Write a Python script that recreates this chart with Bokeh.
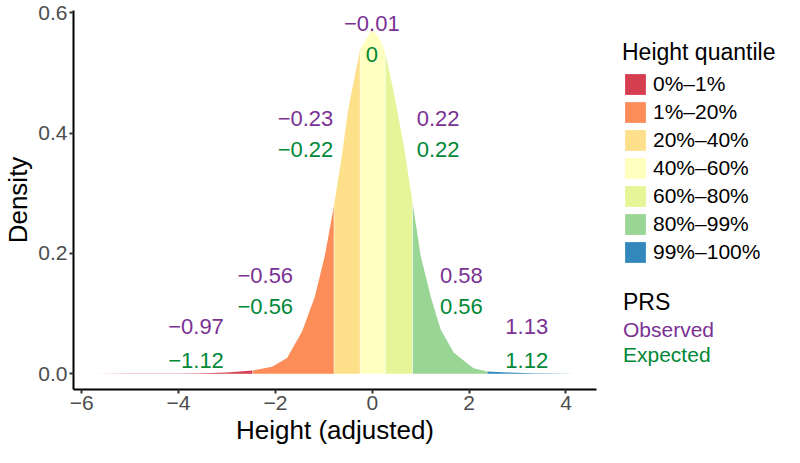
from bokeh.plotting import figure
from bokeh.layouts import row
from bokeh.models import Range1d, FixedTicker, Legend, LegendItem, ColumnDataSource
from bokeh.embed import file_html
from bokeh.resources import INLINE
from bokeh.core.properties import value

FONT = "Liberation Sans"

# ---- data ----
quantile_labels = ["0%–1%", "1%–20%", "20%–40%", "40%–60%", "60%–80%", "80%–99%", "99%–100%"]
band_colors = ["#D53E4F", "#FC8D59", "#FEE08B", "#FFFFBF", "#E6F598", "#99D594", "#3288BD"]
band_edges = [-5.73, -2.47, -0.79, -0.25, 0.27, 0.83, 2.37, 4.18]

curve_x = [-5.73, -5.0, -4.5, -4.0, -3.5, -3.0, -2.47, -2.07, -1.76, -1.45, -1.19, -0.98,
           -0.79, -0.62, -0.50, -0.25, 0.0, 0.10, 0.18, 0.27, 0.45, 0.66, 0.83, 1.00,
           1.21, 1.41, 1.68, 2.09, 2.37, 2.80, 3.30, 3.80, 4.18]
curve_density = [0.0, 0.00005, 0.0001, 0.0003, 0.0008, 0.002, 0.005, 0.0115, 0.026, 0.070,
                 0.127, 0.196, 0.280, 0.367, 0.438, 0.540, 0.573, 0.563, 0.552, 0.533,
                 0.465, 0.375, 0.285, 0.196, 0.127, 0.074, 0.035, 0.009, 0.0036, 0.0018,
                 0.0007, 0.0002, 0.0]

label_x = [-3.64, -2.21, -1.38, -0.01, 1.36, 1.84, 3.19]
observed_labels = ["−0.97", "−0.56", "−0.23", "−0.01", "0.22", "0.58", "1.13"]
observed_y = [0.078, 0.164, 0.425, 0.583, 0.425, 0.164, 0.078]
expected_labels = ["−1.12", "−0.56", "−0.22", "0", "0.22", "0.56", "1.12"]
expected_y = [0.022, 0.1115, 0.372, 0.530, 0.372, 0.1115, 0.022]

x_ticks = [-6, -4, -2, 0, 2, 4]
x_tick_labels = ["−6", "−4", "−2", "0", "2", "4"]
y_ticks = [0.0, 0.2, 0.4, 0.6]
y_tick_labels = ["0.0", "0.2", "0.4", "0.6"]

observed_color = "#7B3294"
expected_color = "#008837"

# ---- main figure ----
p = figure(width=600, height=447, output_backend="svg", toolbar_location=None,
           x_range=Range1d(-6.17, 4.63), y_range=Range1d(-0.0264, 0.604),
           min_border_left=62, min_border_right=4, min_border_top=10, min_border_bottom=40)
p.outline_line_color = None
p.grid.visible = False

for i in range(7):
    lo, hi = band_edges[i], band_edges[i + 1]
    xs = [x for x in curve_x if lo <= x <= hi]
    ys = [d for x, d in zip(curve_x, curve_density) if lo <= x <= hi]
    p.varea(x=xs, y1=[0.0] * len(xs), y2=ys, fill_color=band_colors[i], fill_alpha=1.0)

# faint light seams between adjacent bands
inner_edges = band_edges[1:-1]
edge_tops = [curve_density[curve_x.index(e)] for e in inner_edges]
p.segment(x0=inner_edges, y0=[0.0] * len(inner_edges), x1=inner_edges, y1=edge_tops,
          line_color="white", line_alpha=0.55, line_width=1)

obs_src = ColumnDataSource(dict(x=label_x, y=observed_y, t=observed_labels))
exp_src = ColumnDataSource(dict(x=label_x, y=expected_y, t=expected_labels))
p.text(x="x", y="y", text="t", source=obs_src, text_color=observed_color,
       text_font=value(FONT), text_font_size="22px", text_align="center", text_baseline="middle")
p.text(x="x", y="y", text="t", source=exp_src, text_color=expected_color,
       text_font=value(FONT), text_font_size="22px", text_align="center", text_baseline="middle")

for ax in (p.xaxis, p.yaxis):
    ax.axis_line_color = "black"
    ax.axis_line_width = 2
    ax.major_tick_line_color = "#333333"
    ax.major_tick_line_width = 2
    ax.major_tick_out = 4
    ax.major_tick_in = 0
    ax.minor_tick_line_color = None
    ax.major_label_text_font = FONT
    ax.major_label_text_font_size = "21px"
    ax.major_label_text_color = "#4D4D4D"
    ax.axis_label_text_font = FONT
    ax.axis_label_text_font_size = "26px"
    ax.axis_label_text_font_style = "normal"
    ax.axis_label_text_color = "black"
    ax.major_label_standoff = 2
    ax.axis_label_standoff = 2

p.xaxis.ticker = FixedTicker(ticks=x_ticks)
p.xaxis.major_label_overrides = {t: l for t, l in zip(x_ticks, x_tick_labels)}
p.yaxis.ticker = FixedTicker(ticks=y_ticks)
p.yaxis.major_label_overrides = {t: l for t, l in zip(y_ticks, y_tick_labels)}
p.xaxis.axis_label = "Height (adjusted)"
p.yaxis.axis_label = "Density"

# ---- legend panel ----
lf = figure(width=184, height=447, output_backend="svg", toolbar_location=None,
            x_range=Range1d(0, 1), y_range=Range1d(0, 1),
            x_axis_location=None, y_axis_location=None,
            min_border_left=0, min_border_right=0, min_border_top=0, min_border_bottom=0)
lf.grid.visible = False
lf.outline_line_color = None


def style_legend(lg):
    lg.border_line_alpha = 0
    lg.background_fill_alpha = 0
    lg.padding = 0
    lg.margin = 0
    lg.title_text_font = FONT
    lg.title_text_font_size = "23px"
    lg.title_text_font_style = "normal"
    lg.title_text_color = "black"
    lg.label_text_font = FONT
    lg.label_text_font_size = "21px"
    lg.label_text_color = "black"


# legend-key renderers: placed outside this panel's visible range, they only feed the legend
key_renderers = [lf.quad(left=[5], right=[6], top=[6], bottom=[5], fill_color=c, fill_alpha=1.0,
                         line_color=None) for c in band_colors]
legend = Legend(items=[LegendItem(label=quantile_labels[i], renderers=[key_renderers[i]])
                       for i in range(7)],
                title="Height quantile", location=(22, 124))
style_legend(legend)
legend.glyph_width = 26
legend.glyph_height = 26
legend.label_height = 26
legend.spacing = 2
legend.label_standoff = 5
legend.title_standoff = 5
lf.add_layout(legend)

dummy_obs = lf.scatter(x=[5], y=[5], alpha=0)
dummy_exp = lf.scatter(x=[5], y=[5], alpha=0)

legend_obs = Legend(items=[LegendItem(label="Observed", renderers=[dummy_obs])],
                    title="PRS", location=(23, 47))
style_legend(legend_obs)
legend_obs.label_text_color = observed_color
legend_obs.glyph_width = 0
legend_obs.label_standoff = 0
legend_obs.label_height = 24
legend_obs.glyph_height = 24
legend_obs.title_standoff = 2
lf.add_layout(legend_obs)

legend_exp = Legend(items=[LegendItem(label="Expected", renderers=[dummy_exp])],
                    location=(23, 22))
style_legend(legend_exp)
legend_exp.label_text_color = expected_color
legend_exp.glyph_width = 0
legend_exp.label_standoff = 0
legend_exp.label_height = 24
legend_exp.glyph_height = 24
lf.add_layout(legend_exp)

layout = row(p, lf)
open("out.html", "w").write(file_html(layout, INLINE))
